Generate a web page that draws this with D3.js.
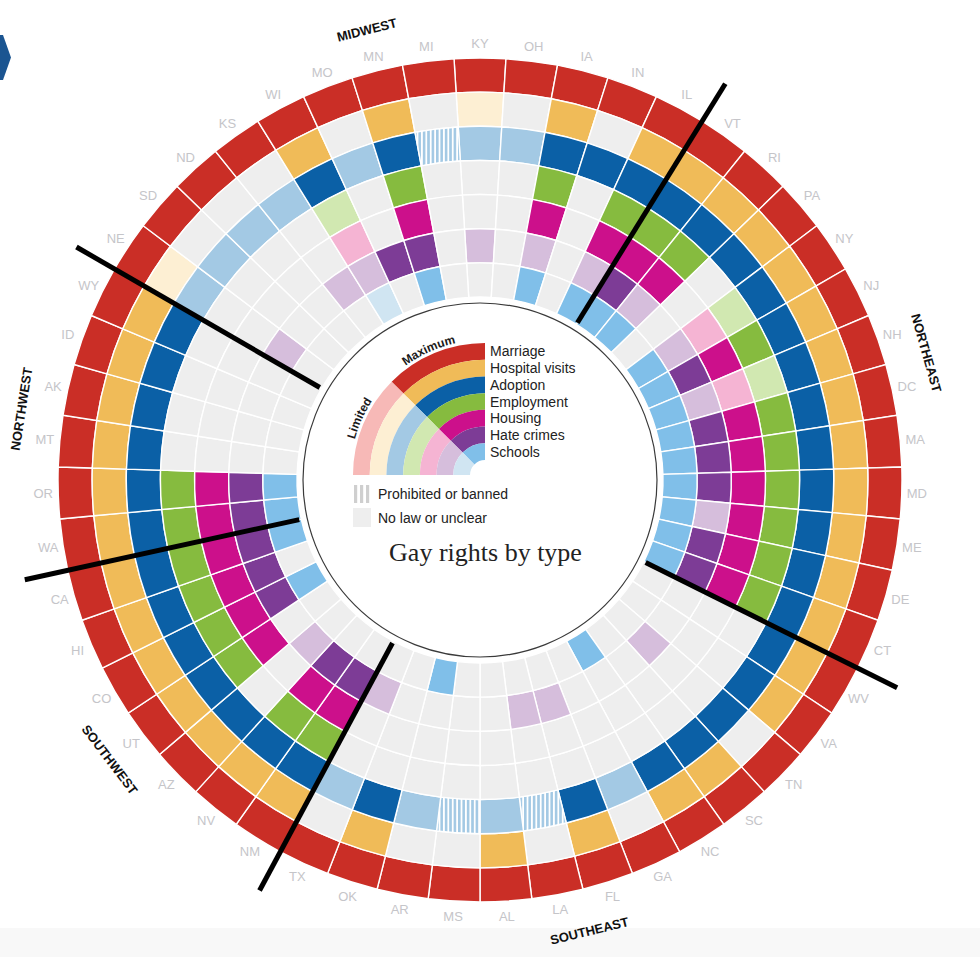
<!DOCTYPE html>
<html><head><meta charset="utf-8">
<script src="https://cdn.jsdelivr.net/npm/d3@7"></script>
<style>
html,body{margin:0;padding:0;background:#fff;}
svg{display:block;}
</style></head><body>
<svg id="chart" width="980" height="957"></svg>
<script>
// ---------- DATA ----------
const states = ["KY","OH","IA","IN","IL","VT","RI","PA","NY","NJ","NH","DC","MA","MD","ME","DE","CT","WV","VA","TN","SC","NC","GA","FL","LA","AL","MS","AR","OK","TX","NM","NV","AZ","UT","CO","HI","CA","WA","OR","MT","AK","ID","WY","NE","SD","ND","KS","WI","MO","MN","MI"];
const rights = ["Marriage","Hospital visits","Adoption","Employment","Housing","Hate crimes","Schools"];
// M = maximum, L = limited, P = prohibited or banned, N = no law or unclear
const marriage   = ["M","M","M","M","M","M","M","M","M","M","M","M","M","M","M","M","M","M","M","M","M","M","M","M","M","M","M","M","M","M","M","M","M","M","M","M","M","M","M","M","M","M","M","M","M","M","M","M","M","M","M"];
const hospital   = ["L","N","M","N","M","M","M","M","M","M","M","M","M","M","M","M","M","M","M","N","M","M","N","M","N","M","N","N","M","N","M","M","M","M","M","M","M","M","M","M","M","M","M","L","N","N","N","M","N","M","N"];
const adoption   = ["L","L","M","M","M","M","M","M","M","M","M","M","M","M","M","M","M","M","M","M","M","M","L","M","P","L","P","L","M","L","M","M","M","M","M","M","M","M","M","M","M","M","M","L","L","L","L","M","L","M","P"];
const employment = ["N","N","M","N","M","M","M","N","L","M","L","M","M","M","M","M","M","N","N","N","N","N","N","N","N","N","N","N","N","N","M","M","N","M","M","M","M","M","M","N","N","N","N","N","N","N","N","L","N","M","N"];
const housing    = ["N","N","M","N","M","M","M","N","L","M","L","M","M","M","M","M","M","N","N","N","N","N","N","N","N","N","N","N","N","N","M","M","N","M","M","M","M","M","M","N","N","N","N","N","N","N","N","L","N","M","N"];
const hateCrimes = ["L","N","L","N","L","M","L","N","L","M","L","M","M","M","L","M","M","N","N","L","N","N","N","L","L","N","N","N","N","L","M","M","L","N","M","M","M","M","M","N","N","N","N","L","N","N","L","L","M","M","N"];
const schools    = ["N","N","M","N","M","M","M","N","M","M","M","M","M","M","M","M","M","N","N","N","N","M","N","N","N","N","N","M","N","N","N","N","N","N","M","N","M","M","M","N","N","N","N","N","N","N","N","L","N","M","N"];
const series = [marriage, hospital, adoption, employment, housing, hateCrimes, schools];
const regionNames  = ["NORTHEAST","SOUTHEAST","SOUTHWEST","NORTHWEST","MIDWEST"];
const regionStarts = ["VT","WV","NM","WA","NE"];
const legendOther = ["Prohibited or banned","No law or unclear"];
const title = "Gay rights by type";

// ---------- STYLE ----------
const maxColors = ["#ca2e26","#f0bb58","#0b60a6","#86bb3f","#cc108b","#7d3c96","#80bfe9"];
const limColors = ["#f7b9b7","#fdefd3","#a3c9e4","#d1e8b1","#f5b4d3","#d6bedc","#d0e5f2"];
const noneColor = "#eeeeee";

const svg = d3.select("#chart");
const cx = 480, cy = 480;

// bottom band
svg.append("rect").attr("x",0).attr("y",928).attr("width",980).attr("height",29).attr("fill","#f8f8f8");

const defs = svg.append("defs");
const pat = defs.append("pattern").attr("id","stripes").attr("patternUnits","userSpaceOnUse")
  .attr("width",4.4).attr("height",10);
pat.append("rect").attr("width",4.4).attr("height",10).attr("fill","#ffffff");
pat.append("rect").attr("width",2.6).attr("height",10).attr("fill","#a3c9e4");

// blue chevron at top-left
svg.append("polygon").attr("points","-6,35 3,35 11,57.5 3,80 -6,80").attr("fill","#1b5591");

const g = svg.append("g").attr("transform",`translate(${cx},${cy})`);

const step = 2*Math.PI/states.length;
const angle = d3.scaleBand().domain(states).range([-step/2, 2*Math.PI - step/2]);
const radius = d3.scaleBand().domain(rights).range([422, 183]);

const cells = [];
rights.forEach((r,i) => states.forEach((s,j) => cells.push({right:r, ri:i, state:s, code:series[i][j]})));

const arc = d3.arc()
  .innerRadius(d => radius(d.right))
  .outerRadius(d => radius(d.right) + radius.bandwidth())
  .startAngle(d => angle(d.state))
  .endAngle(d => angle(d.state) + angle.bandwidth());

function fillFor(d){
  if (d.code === "M") return maxColors[d.ri];
  if (d.code === "L") return limColors[d.ri];
  if (d.code === "P") return "url(#stripes)";
  return noneColor;
}

g.append("g").selectAll("path").data(cells).join("path")
  .attr("d", arc)
  .attr("fill", fillFor)
  .attr("stroke","#ffffff").attr("stroke-width",1.4);

// inner circle
g.append("circle").attr("r",177).attr("fill","#fff").attr("stroke","#3a3a3a").attr("stroke-width",1.2);

// state labels
g.append("g").selectAll("text").data(states).join("text")
  .attr("transform", d => {
    const p = d3.pointRadial(angle(d) + angle.bandwidth()/2, 437);
    return `translate(${p[0]},${p[1]})`;
  })
  .attr("text-anchor","middle").attr("dominant-baseline","central")
  .attr("font-family","Liberation Sans, Arial, sans-serif").attr("font-size",13)
  .attr("fill","#c5c5c9").text(d => d);

// region separator lines
g.append("g").selectAll("line").data(regionStarts).join("line")
  .each(function(d){
    const a = angle(d);
    const p1 = d3.pointRadial(a, 185), p2 = d3.pointRadial(a, 466);
    d3.select(this).attr("x1",p1[0]).attr("y1",p1[1]).attr("x2",p2[0]).attr("y2",p2[1]);
  })
  .attr("stroke","#000").attr("stroke-width",5);

// region labels
const nudge = {SOUTHEAST: 4*Math.PI/180};
const regionData = regionNames.map((name,i) => {
  const a0 = angle(regionStarts[i]);
  let a1 = angle(regionStarts[(i+1)%regionStarts.length]);
  if (a1 <= a0) a1 += 2*Math.PI;
  let a = (a0+a1)/2 + (nudge[name]||0);
  return {name, a};
});
g.append("g").selectAll("text").data(regionData).join("text")
  .attr("transform", d => {
    const p = d3.pointRadial(d.a, 464);
    let deg = d.a*180/Math.PI % 360;
    if (deg < 0) deg += 360;
    let rot = (deg > 90 && deg < 270) ? deg - 180 : (deg > 180 ? deg - 360 : deg);
    return `translate(${p[0]},${p[1]}) rotate(${rot})`;
  })
  .attr("text-anchor","middle").attr("dominant-baseline","central")
  .attr("font-family","Liberation Sans, Arial, sans-serif").attr("font-size",13).attr("font-weight","bold")
  .attr("fill","#111").text(d => d.name);

// ---------- LEGEND ----------
const lg = svg.append("g").attr("transform","translate(485,475)");
const lr = d3.scaleBand().domain(rights).range([132, 15]);
const larc = d3.arc()
  .innerRadius(d => lr(d.right)).outerRadius(d => lr(d.right) + lr.bandwidth())
  .startAngle(d => d.a0).endAngle(d => d.a1);
const legendArcs = [];
rights.forEach((r,i) => {
  legendArcs.push({right:r, a0:-Math.PI/4, a1:0, fill:maxColors[i]});
  legendArcs.push({right:r, a0:-Math.PI/2, a1:-Math.PI/4, fill:limColors[i]});
});
lg.selectAll("path.la").data(legendArcs).join("path").attr("class","la")
  .attr("d", larc).attr("fill", d => d.fill);

defs.append("path").attr("id","legendPath").attr("d","M -135,0 A 135 135 0 0 1 0 -135");
[["Limited","27%"],["Maximum","73%"]].forEach(([t,off]) => {
  lg.append("text").attr("font-family","Liberation Sans, Arial, sans-serif").attr("font-size",12)
    .attr("font-weight","bold").attr("fill","#1a1a1a")
    .append("textPath").attr("href","#legendPath").attr("startOffset",off)
    .attr("text-anchor","middle").text(t);
});

lg.selectAll("text.ll").data(rights).join("text").attr("class","ll")
  .attr("x",5).attr("y", d => -(lr(d) + lr.bandwidth()/2))
  .attr("dominant-baseline","central")
  .attr("font-family","Liberation Sans, Arial, sans-serif").attr("font-size",14)
  .attr("fill","#222").text(d => d);

// prohibited swatch
const sw = svg.append("g");
[354,360,366].forEach(x => sw.append("rect").attr("x",x).attr("y",485).attr("width",3.2).attr("height",18).attr("fill","#cfcfcf"));
sw.append("rect").attr("x",353).attr("y",508).attr("width",18).attr("height",19).attr("fill",noneColor);
sw.selectAll("text").data(legendOther).join("text")
  .attr("x",378).attr("y",(d,i) => 494 + i*24)
  .attr("dominant-baseline","central")
  .attr("font-family","Liberation Sans, Arial, sans-serif").attr("font-size",14)
  .attr("fill","#222").text(d => d);

svg.append("text").attr("x",485.5).attr("y",561).attr("text-anchor","middle")
  .attr("font-family","Liberation Serif, Times New Roman, serif").attr("font-size",26)
  .attr("fill","#222").text(title);
</script>
</body></html>
